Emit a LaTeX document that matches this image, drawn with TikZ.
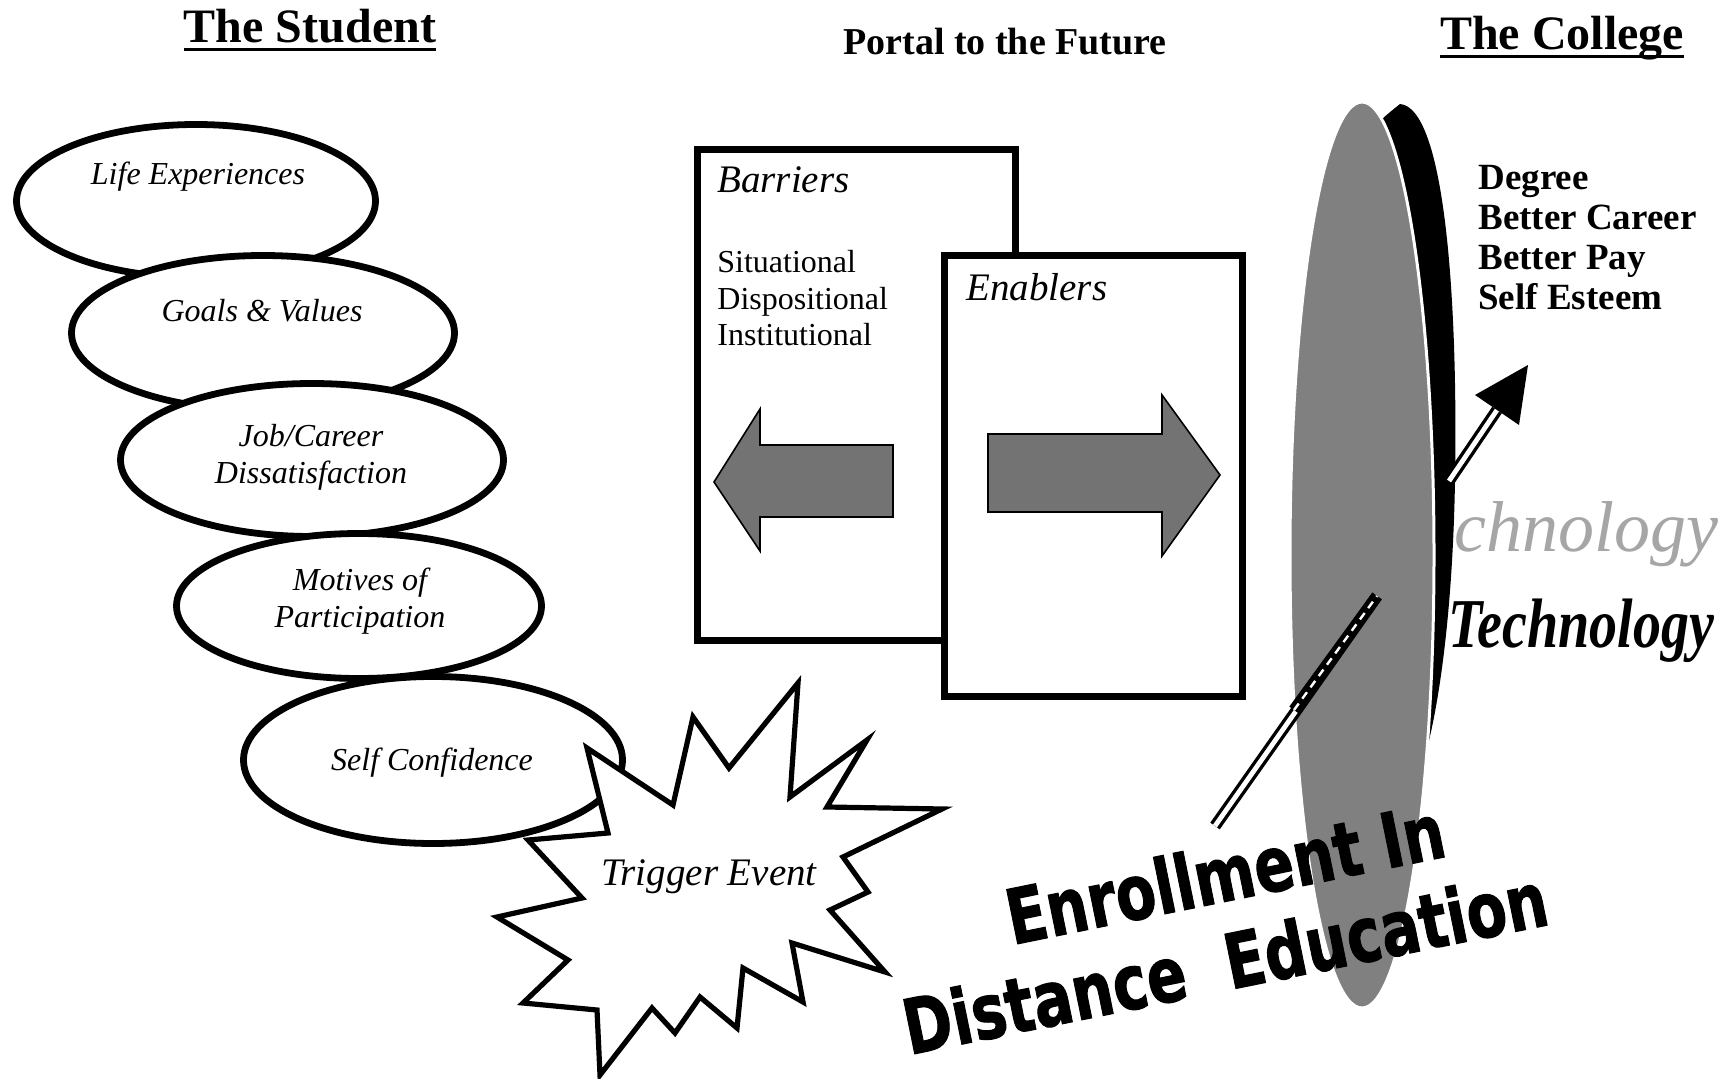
\documentclass[tikz,border=0pt]{standalone}
\usepackage{fontspec}
\setmainfont{Liberation Serif}
\newfontfamily\posterfont{DejaVu Sans}[BoldFeatures={FakeBold=1.5}]
\usetikzlibrary{shapes.geometric}

\tikzset{
  bubble/.style={ellipse, draw, line width=3.4pt, fill=white, inner sep=0pt},
  bubbletext/.style={font=\fontsize{16}{18.5}\selectfont\itshape, align=center},
  portalbox/.style={draw, line width=3.5pt, fill=white, inner sep=0pt, anchor=north west},
  boxhead/.style={font=\fontsize{19.5}{22}\selectfont\itshape, anchor=base west, inner sep=0pt},
  boxitem/.style={font=\fontsize{16}{18}\selectfont, anchor=base west, inner sep=0pt},
  fatarrow/.style={draw, line width=0.8pt, fill=black!55},
  heading/.style={font=\fontsize{24}{28}\selectfont\bfseries, anchor=base, inner sep=0pt},
  gain/.style={font=\fontsize{18.5}{20}\selectfont\bfseries, anchor=base west, inner sep=0pt},
  enrol/.style={font=\posterfont\bfseries\fontsize{38}{40}\selectfont, anchor=base west,
    rotate=11.5, inner sep=0pt},
  highway/.style={line width=1.7pt, double=white, double distance=2.4pt},
}

\begin{document}
\begin{tikzpicture}[x=0.5pt, y=-0.5pt]
  \fill[white] (0,0) rectangle (1733,1079);
  \useasboundingbox (0,0) rectangle (1733,1079);

  % headings
  \node[heading] (student) at (310,43) {The Student};
  \draw[line width=1.5pt] ([yshift=-3.5pt]student.base west) -- ([yshift=-3.5pt]student.base east);
  \node[heading] (college) at (1562,50) {The College};
  \draw[line width=1.5pt] ([yshift=-3.5pt]college.base west) -- ([yshift=-3.5pt]college.base east);
  \node[heading, font=\fontsize{19}{22}\selectfont\bfseries] (portal) at (1005,55) {Portal to the Future};

  % the student
  \foreach \nm/\cx/\cy/\w/\h in {life/196/201/179.5/76.5, goals/263/333/191.5/77.5,
      job/312/460/191.5/76.5, motives/359/606/182.5/72.5, selfconf/433/760/189.5/83.5} {
    \node[bubble, minimum width=\w pt, minimum height=\h pt] (\nm) at (\cx,\cy) {};
  }
  \node[bubbletext] (lifetext) at (198,177) {Life Experiences};
  \node[bubbletext] (goalstext) at (262,311) {Goals \& Values};
  \node[bubbletext] (jobtext) at (311,457) {Job/Career\\Dissatisfaction};
  \node[bubbletext] (motivestext) at (360,601) {Motives of\\Participation};
  \node[bubbletext] (selfconftext) at (432,763) {Self Confidence};

  % trigger event
  \draw[line width=2.6pt, fill=white, line join=miter]
    (587,748) -- (673,805) -- (693,717) -- (729,768) -- (798,683) -- (790,797)
    -- (867,740) -- (827,807) -- (942,809) -- (843,857) -- (868,892) -- (830,910)
    -- (885,972) -- (792,943) -- (803,1002) -- (743,968) -- (737,1028) -- (700,997)
    -- (675,1033) -- (652,1008) -- (600,1075) -- (597,1010) -- (523,1003) -- (568,960)
    -- (497,917) -- (582,898) -- (528,840) -- (608,833) -- cycle;
  \node[font=\fontsize{19.5}{22}\selectfont\itshape] (trigger) at (709,877) {Trigger Event};

  % portal to the future
  \node[portalbox, minimum width=159pt, minimum height=245pt] (barriers) at (693.5,146.5) {};
  \node[boxhead] (barrierhead) at (717,193) {Barriers};
  \foreach \item [count=\i] in {Situational, Dispositional, Institutional} {
    \node[boxitem] (barrier\i) at (717,{236.5+36.5*\i}) {\item};
  }
  \draw[fatarrow] (714,482) -- (760,409) -- (760,445) -- (893,445) -- (893,517)
    -- (760,517) -- (760,551) -- cycle;

  \node[portalbox, minimum width=149pt, minimum height=220pt] (enablers) at (940.5,252.5) {};
  \node[boxhead] (enablerhead) at (966,301) {Enablers};
  \draw[fatarrow] (988,434) -- (1162,434) -- (1162,395) -- (1220,475) -- (1162,556)
    -- (1162,512) -- (988,512) -- cycle;

  % the college
  \node[font=\fontsize{36}{40}\selectfont\itshape, text=black!35, anchor=base east,
    inner sep=0pt] (technoghost) at (1719,551) {Technology};
  \fill[black] (1400,104) .. controls (1445,108) and (1458,300) .. (1455,480)
    .. controls (1453,600) and (1441,700) .. (1424,760) -- (1362,760) -- (1362,180)
    .. controls (1370,128) .. (1400,104) -- cycle;
  \node[ellipse, fill=black!50, draw=white, line width=1.5pt, inner sep=0pt,
    minimum width=72pt, minimum height=453pt] (gate) at (1362,555) {};

  \coordinate (roadlow) at (1215,826);
  \coordinate (roadin) at (1294,710);
  \coordinate (roadtop) at (1377,596);
  \draw[highway] (roadlow) -- (roadtop);
  \draw[line width=5.8pt] (roadin) -- (roadtop);
  \draw[white, line width=1.2pt, dash pattern=on 4pt off 3pt] (roadin) -- (roadtop);

  \coordinate (shaftfoot) at (1449,481);
  \coordinate (headbase) at (1497,410);
  \coordinate (headtip) at (1528,365);
  \draw[highway] (shaftfoot) -- (headbase);
  \fill (headtip) -- (1519,425) -- (1475,395) -- cycle;

  \node[font=\fontsize{35}{40}\selectfont\bfseries\itshape, anchor=base west, inner sep=0pt]
    (techno) at (1448,647) {\scalebox{0.8}[1]{Technology}};
  \foreach \g [count=\i] in {Degree, Better Career, Better Pay, Self Esteem} {
    \node[gain] (gain\i) at (1478,{150+40*\i}) {\g};
  }

  % enrollment in distance education
  \node[enrol] (enrolword) at (1012,945) {\scalebox{0.77}[1]{Enrollment}};
  \node[enrol] (inword) at ([shift={(11.5:10pt)}]enrolword.base east) {\scalebox{0.77}[1]{In}};
  \node[enrol] (distword) at (909,1055) {\scalebox{0.77}[1]{Distance}};
  \node[enrol] (eduword) at ([shift={(11.5:20pt)}]distword.base east) {\scalebox{0.77}[1]{Education}};
\end{tikzpicture}
\end{document}
